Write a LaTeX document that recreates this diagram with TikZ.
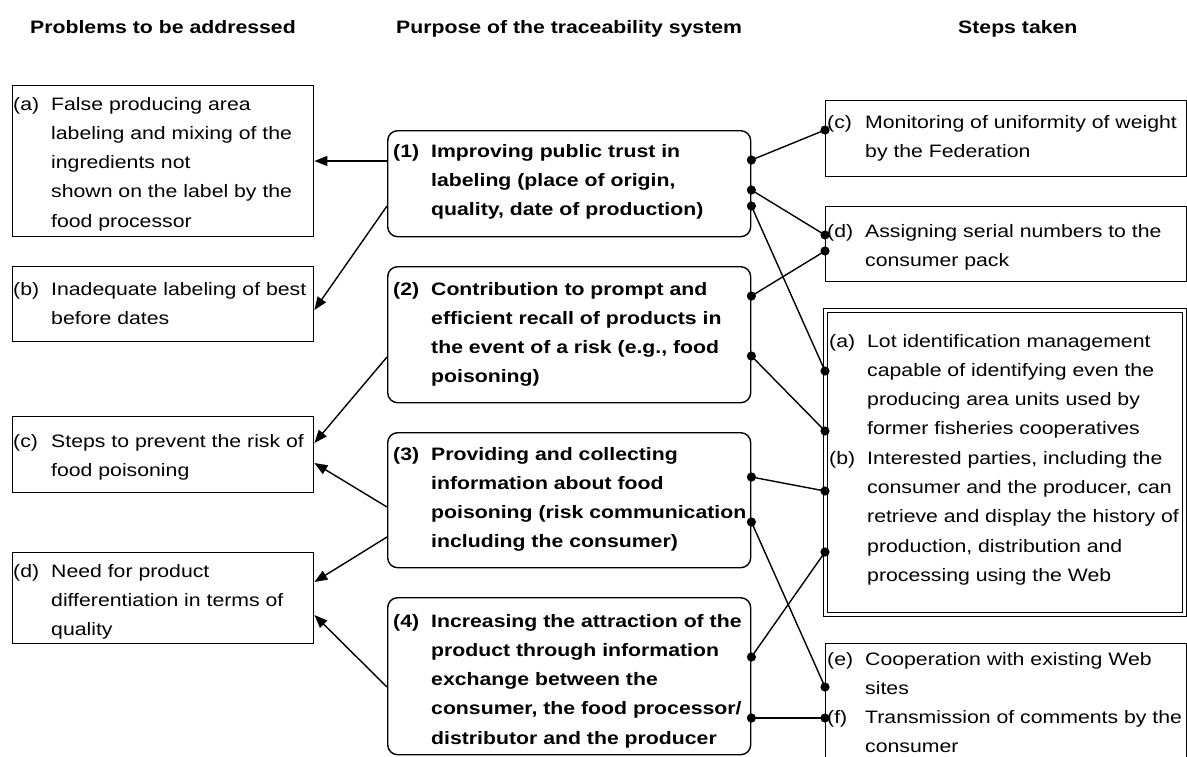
\documentclass[tikz,border=0pt]{standalone}
\usepackage{fontspec}
\setmainfont{Liberation Sans}[FakeStretch=1.18]
\usetikzlibrary{arrows.meta,calc}

\tikzset{
  box/.style={draw, line width=1.4pt, inner sep=0pt, anchor=north west},
  purpose/.style={box, rounded corners=10pt},
  txt/.style={anchor=base west, inner sep=0pt, font=\fontsize{18}{29.3}\selectfont},
  btxt/.style={txt, font=\fontsize{18}{29.3}\selectfont\bfseries},
  head/.style={anchor=base west, inner sep=0pt, font=\fontsize{18}{22}\selectfont\bfseries},
  link/.style={line width=1.4pt},
  arr/.style={line width=1.4pt, -{Triangle[length=13pt,width=10pt]}},
}
% item list: label column of fixed width, then the hanging text
\newenvironment{itemtab}{\begin{tabular}[t]{@{}p{38pt}@{}l@{}}}{\end{tabular}}
\newcommand\dotat[1]{\fill (#1) circle (4.6pt);}

\begin{document}
\begin{tikzpicture}[x=1pt, y=-1pt]
\useasboundingbox (0,0) rectangle (1187,756);
\clip (0,0) rectangle (1187,756);

% column headings
\node[head] (h1) at (30,33) {Problems to be addressed};
\node[head] (h2) at (396,33) {Purpose of the traceability system};
\node[head] (h3) at (958,33) {Steps taken};

% problems
\node[box, minimum width=301pt, minimum height=151pt] (Pa) at (12,85) {};
\node[box, minimum width=301pt, minimum height=75pt]  (Pb) at (12,266) {};
\node[box, minimum width=301pt, minimum height=76pt]  (Pc) at (12,416) {};
\node[box, minimum width=301pt, minimum height=91pt]  (Pd) at (12,552) {};

\node[txt] (tPa) at (13,110) {\begin{itemtab}
(a) & False producing area\\
    & labeling and mixing of the\\
    & ingredients not\\
    & shown on the label by the\\
    & food processor
\end{itemtab}};
\node[txt] (tPb) at (13,295) {\begin{itemtab}
(b) & Inadequate labeling of best\\
    & before dates
\end{itemtab}};
\node[txt] (tPc) at (13,447) {\begin{itemtab}
(c) & Steps to prevent the risk of\\
    & food poisoning
\end{itemtab}};
\node[txt] (tPd) at (13,577) {\begin{itemtab}
(d) & Need for product\\
    & differentiation in terms of\\
    & quality
\end{itemtab}};

% purposes
\node[purpose, minimum width=363pt, minimum height=106pt] (M1) at (387,130) {};
\node[purpose, minimum width=363pt, minimum height=136pt] (M2) at (387,266) {};
\node[purpose, minimum width=363pt, minimum height=135pt] (M3) at (387,432) {};
\node[purpose, minimum width=363pt, minimum height=157pt] (M4) at (387,597) {};

\node[btxt] (tM1) at (393,157) {\begin{itemtab}
(1) & Improving public trust in\\
    & labeling (place of origin,\\
    & quality, date of production)
\end{itemtab}};
\node[btxt] (tM2) at (393,295) {\begin{itemtab}
(2) & Contribution to prompt and\\
    & efficient recall of products in\\
    & the event of a risk (e.g., food\\
    & poisoning)
\end{itemtab}};
\node[btxt] (tM3) at (393,460) {\begin{itemtab}
(3) & Providing and collecting\\
    & information about food\\
    & poisoning (risk communication\\
    & including the consumer)
\end{itemtab}};
\node[btxt] (tM4) at (393,627) {\begin{itemtab}
(4) & Increasing the attraction of the\\
    & product through information\\
    & exchange between the\\
    & consumer, the food processor/\\
    & distributor and the producer
\end{itemtab}};

% steps taken
\node[box, minimum width=361pt, minimum height=76pt] (Sc) at (825,100) {};
\node[box, minimum width=361pt, minimum height=75pt] (Sd) at (825,206) {};
\node[box, line width=1.2pt, minimum width=363pt, minimum height=308pt] (Sab) at (823,308) {};
\node[box, line width=1.2pt, minimum width=355pt, minimum height=300pt] (Sabi) at (827,312) {};
\node[box, minimum width=361pt, minimum height=140pt] (Se) at (825,643) {};

\node[txt] (tSc) at (827,128) {\begin{itemtab}
(c) & Monitoring of uniformity of weight\\
    & by the Federation
\end{itemtab}};
\node[txt] (tSd) at (827,237) {\begin{itemtab}
(d) & Assigning serial numbers to the\\
    & consumer pack
\end{itemtab}};
\node[txt] (tSab) at (829,347) {\begin{itemtab}
(a) & Lot identification management\\
    & capable of identifying even the\\
    & producing area units used by\\
    & former fisheries cooperatives\\
(b) & Interested parties, including the\\
    & consumer and the producer, can\\
    & retrieve and display the history of\\
    & production, distribution and\\
    & processing using the Web
\end{itemtab}};
\node[txt] (tSe) at (827,665) {\begin{itemtab}
(e) & Cooperation with existing Web\\
    & sites\\
(f) & Transmission of comments by the\\
    & consumer
\end{itemtab}};

% attachment points on the purpose boxes (right side)
\coordinate (m1a) at ($(M1.north east)+(0,30)$);
\coordinate (m1b) at ($(M1.north east)+(0,60)$);
\coordinate (m1c) at ($(M1.north east)+(0,76)$);
\coordinate (m2a) at ($(M2.north east)+(0,30)$);
\coordinate (m2b) at ($(M2.north east)+(0,90)$);
\coordinate (m3a) at ($(M3.north east)+(0,45)$);
\coordinate (m3b) at ($(M3.north east)+(0,90)$);
\coordinate (m4a) at ($(M4.north east)+(0,60)$);
\coordinate (m4b) at ($(M4.north east)+(0,121)$);

% attachment points on the step boxes
\coordinate (sc)  at ($(Sc.north west)+(0,30)$);
\coordinate (sd1) at ($(Sd.north west)+(0,29)$);
\coordinate (sd2) at ($(Sd.north west)+(0,45)$);
\coordinate (sa1) at ($(Sab.north west)+(2,63)$);
\coordinate (sa2) at ($(Sab.north west)+(2,123)$);
\coordinate (sb1) at ($(Sab.north west)+(2,183)$);
\coordinate (sb2) at ($(Sab.north west)+(2,244)$);
\coordinate (se)  at ($(Se.north west)+(0,44)$);
\coordinate (sf)  at ($(Se.north west)+(0,75)$);

% links from purposes to steps
\draw[link] (m1a) -- (sc);
\draw[link] (m1b) -- (sd1);
\draw[link] (m1c) -- (sa1);
\draw[link] (m2a) -- (sd2);
\draw[link] (m2b) -- (sa2);
\draw[link] (m3a) -- (sb1);
\draw[link] (m3b) -- (se);
\draw[link] (m4a) -- (sb2);
\draw[link] (m4b) -- (sf);

\foreach \p in {m1a,m1b,m1c,m2a,m2b,m3a,m3b,m4a,m4b,sc,sd1,sd2,sa1,sa2,sb1,sb2,se,sf}
  {\dotat{\p}}

% arrows from purposes to problems
\draw[arr] ($(M1.north west)+(0,31)$)  -- ($(Pa.north east)+(0,76)$);
\draw[arr] ($(M1.north west)+(0,76)$)  -- ($(Pb.north east)+(0,44)$);
\draw[arr] ($(M2.north west)+(0,91)$)  -- ($(Pc.north east)+(0,27)$);
\draw[arr] ($(M3.north west)+(0,75)$)  -- ($(Pc.north east)+(0,47)$);
\draw[arr] ($(M3.north west)+(0,105)$) -- ($(Pd.north east)+(0,30)$);
\draw[arr] ($(M4.north west)+(0,90)$)  -- ($(Pd.north east)+(0,63)$);
\end{tikzpicture}
\end{document}
